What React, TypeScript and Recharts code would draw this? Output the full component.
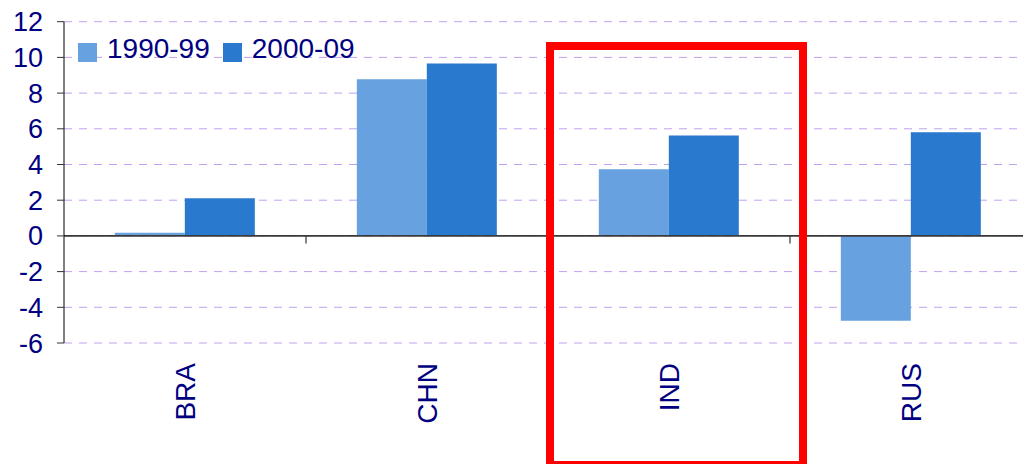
import { BarChart, Bar, XAxis, YAxis, CartesianGrid, ReferenceLine, Legend } from "recharts"

const countries = ["BRA", "CHN", "IND", "RUS"]
const growth1990s = [0.17, 8.77, 3.73, -4.76]
const growth2000s = [2.11, 9.66, 5.63, 5.8]
const yTicks = [-6, -4, -2, 0, 2, 4, 6, 8, 10, 12]

const series = [
  { key: "p1990", name: "1990-99", color: "#67a1df" },
  { key: "p2000", name: "2000-09", color: "#2979ce" },
]

const data = countries.map((c, i) => ({
  country: c,
  p1990: growth1990s[i],
  p2000: growth2000s[i],
}))

const FONT = "'Liberation Sans', Arial, sans-serif"
const NAVY = "#000080"

const CountryTick = (props: any) => {
  const { x, y, payload } = props
  return (
    <text
      x={x}
      y={y}
      transform={`rotate(-90, ${x}, ${y})`}
      textAnchor="end"
      dy="0.36em"
      fill={NAVY}
      fontSize={28}
      fontFamily={FONT}
    >
      {payload.value}
    </text>
  )
}

const LegendContent = () => (
  <div style={{ display: "flex", fontFamily: FONT, fontSize: 28, lineHeight: "32px", color: NAVY }}>
    {series.map((s) => (
      <div key={s.key} style={{ display: "flex", marginRight: 13 }}>
        <span style={{ width: 19, height: 19, background: s.color, marginTop: 10, marginRight: 10 }} />
        <span>{s.name}</span>
      </div>
    ))}
  </div>
)

export default function App() {
  return (
    <div style={{ position: "relative", width: 1023, height: 464, overflow: "hidden", background: "#fff" }}>
      <style>{`body{margin:0}`}</style>
      <BarChart
        width={1032}
        height={464}
        data={data}
        margin={{ top: 21.7, right: 0, left: 0, bottom: 0 }}
        barCategoryGap="21%"
        barGap={0}
      >
        <CartesianGrid vertical={false} stroke="#c0a0f0" strokeDasharray="8 7" />
        <XAxis
          dataKey="country"
          height={121}
          axisLine={false}
          tickLine={false}
          tickSize={0}
          tickMargin={20}
          tick={<CountryTick />}
          interval={0}
        />
        <YAxis
          width={64}
          domain={[-6, 12]}
          ticks={yTicks}
          interval={0}
          axisLine={{ stroke: "#000" }}
          tickLine={{ stroke: "#333" }}
          tickSize={7}
          tickMargin={14}
          tick={{ fill: NAVY, fontSize: 27, fontFamily: FONT }}
        />
        <Legend
          layout="horizontal"
          verticalAlign="middle"
          align="center"
          wrapperStyle={{ top: 33, left: 78, width: "auto" }}
          content={<LegendContent />}
        />
        {series.map((s) => (
          <Bar key={s.key} dataKey={s.key} name={s.name} fill={s.color} isAnimationActive={false} />
        ))}
        <ReferenceLine y={0} stroke="#3a3a3a" strokeWidth={1.6} />
        {countries.slice(1).map((c) => (
          <ReferenceLine
            key={c}
            position="start"
            segment={[
              { x: c, y: 0 },
              { x: c, y: -0.42 },
            ]}
            stroke="#333"
            strokeWidth={1.2}
          />
        ))}
      </BarChart>
      <div
        style={{
          position: "absolute",
          left: 546,
          top: 42,
          width: 261,
          height: 427,
          border: "8px solid #ff0000",
          boxSizing: "border-box",
          pointerEvents: "none",
        }}
      />
    </div>
  )
}
